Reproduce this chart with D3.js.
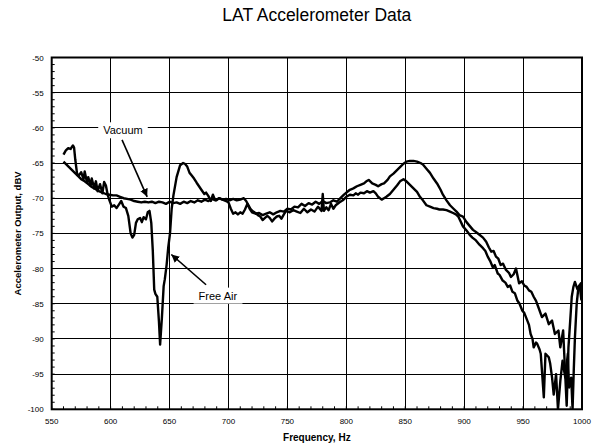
<!DOCTYPE html>
<html><head><meta charset="utf-8">
<script src="https://cdn.jsdelivr.net/npm/d3@7"></script>
<style>body{margin:0;background:#fff}svg{display:block}</style>
</head><body>
<svg id="chart" width="594" height="445"></svg>
<script>
const title = "LAT Accelerometer Data";
const xLabel = "Frequency, Hz";
const yLabel = "Accelerometer Output, dBV";
const xTicks = [550,600,650,700,750,800,850,900,950,1000];
const yTicks = [-50,-55,-60,-65,-70,-75,-80,-85,-90,-95,-100];

// Vacuum: frequency (Hz) and output (dBV)
const vacuumF = [560,563,566,569,572,575,578,581,584,587,590,593,596,599,602,605,608,611,614,617,620,623,626,629,632,635,638,641,644,647,650,653,656,659,662,665,668,671,674,677,680,683,686,689,692,695,698,701,704,707,710,713,715,717,719,721,723,725,727,729,731,733,735,737,739,741,743,745,747,749,752,755,758,761,764,767,770,773,776,779,780,781,783,785,787,789,791,794,797,800,803,806,808,810,812,815,817.5,820,823,825,827,830,832,834,837,840,843,845.6,848.5,851,854,857,860,862.5,865,868,871,874,877,879,882,885,888,890.6,893,895,899,902,904.7,907,910,913,916,918,920,922,924.3,926,928.5,930,932.7,935,937,939,941,943,945,947,949.4,951,953.6,955,956.4,958,959,961,962,964,965,967.6,969,971.8,973,974.6,976,978,979.6,981.6,983.5,985.8,988,989,990.8,992,993,994,995.5,997,999,1000];
const vacuumV = [-64.8,-65.3,-65.8,-66.3,-66.8,-67.3,-67.6,-68.0,-68.4,-68.7,-69.0,-69.2,-69.4,-69.5,-69.6,-69.6,-69.8,-70.0,-70.1,-70.2,-70.4,-70.5,-70.6,-70.5,-70.6,-70.5,-70.7,-70.5,-70.6,-70.8,-70.5,-70.7,-70.6,-70.8,-70.5,-70.7,-70.4,-70.6,-70.3,-70.5,-70.2,-70.4,-70.1,-70.3,-70.0,-70.2,-70.1,-70.3,-70.1,-70.3,-70.2,-70.0,-70.4,-71.0,-71.6,-71.9,-72.1,-72.4,-72.6,-73.1,-72.8,-72.5,-72.8,-73.3,-72.9,-72.6,-72.5,-72.9,-72.3,-71.8,-72.0,-71.7,-71.9,-72.1,-71.5,-72.0,-71.6,-71.9,-71.2,-71.8,-69.4,-71.8,-71.3,-71.7,-70.8,-71.5,-71.0,-70.6,-70.3,-69.8,-69.5,-69.6,-69.3,-69.5,-69.2,-69.3,-69.0,-69.2,-69.0,-69.3,-69.8,-70.2,-70.0,-69.8,-69.4,-68.8,-68.2,-67.6,-67.3,-67.6,-68.1,-68.6,-69.1,-69.8,-70.3,-71.0,-71.2,-71.4,-71.5,-71.6,-71.6,-71.7,-71.9,-72.1,-72.3,-72.6,-74.0,-74.6,-75.2,-75.6,-76.0,-76.6,-77.1,-77.5,-78.3,-78.9,-79.8,-79.5,-80.7,-80.9,-81.7,-82.0,-82.6,-82.4,-83.3,-83.5,-84.5,-85.0,-86.0,-86.3,-87.4,-88.0,-89.3,-90.0,-91.2,-90.5,-90.7,-91.5,-92.1,-98.3,-92.1,-92.6,-93.5,-95.5,-97.9,-95.0,-100,-96.0,-93.1,-95.5,-92.1,-96.9,-95.5,-100,-94.5,-89.8,-85.0,-82.6,-82.1,-83.5];

// Free Air: frequency (Hz) and output (dBV)
const freeAirF = [560,562,564,566,568,569,570,571.5,573,575,577,578,580,581,583,584,586,587.5,589,591,593,594.5,596,597.5,599,601,603,605,607,609,611,613,615,617,618.5,620,621.5,623,625,626.5,628,630,631.5,633,634.5,635.8,637,638,639.6,641,642,643.5,645,646,647.5,648.9,650.4,651.8,653.3,656,659,661.5,663,665,667,668.5,670.8,673,675,677,679.5,681,683,685,686.8,688,689.7,692,695,698,700,702,704,706,708,710,712,714,716,718,720,723,726,729,732,735,738,741,744,747,750,753,756,759,762,765,768,771,774,777,780,783,786,789,792,795,798,803,806,809,812,815,817,819,822,825,827,830,832,835,837,840,843,846,848.5,851,854,857,860,863,865,868,871,874,877,880,882,885,888,891,893.5,896,899,902,905,907.5,910,913,916,918.7,921,923,925,927,929,931,933,935.5,938,939.7,942,944,946.6,949,951,953,955,957,959,961,963,966,969,971.8,974.6,977,980,981.6,984,987,988.5,990,991.3,992.7,994,996,998,999.5];
const freeAirV = [-63.8,-63.2,-62.9,-63.0,-62.5,-62.8,-64.5,-66.5,-66.8,-66.3,-67.3,-66.2,-67.8,-67.0,-68.2,-67.2,-68.6,-67.6,-69.0,-68.0,-69.3,-67.7,-68.2,-69.5,-70.3,-71.2,-71.0,-71.4,-70.9,-70.4,-71.2,-71.4,-72.5,-75.0,-75.6,-75.2,-73.5,-73.0,-72.8,-73.4,-72.7,-73.0,-72.0,-71.8,-73.5,-77.5,-83.0,-83.6,-84.0,-87.5,-90.8,-87.0,-82.5,-81.5,-79.5,-77.0,-75.0,-71.5,-69.6,-67.0,-65.3,-65.0,-65.1,-65.5,-66.4,-66.7,-67.2,-67.8,-68.3,-68.8,-69.4,-69.2,-69.7,-70.4,-69.5,-70.0,-70.3,-70.0,-70.2,-70.4,-70.6,-71.5,-72.2,-72.0,-72.3,-72.0,-72.2,-71.6,-70.8,-71.5,-72.0,-72.2,-72.1,-72.4,-72.2,-72.0,-72.3,-72.0,-71.8,-71.9,-71.5,-71.6,-71.2,-71.3,-70.8,-71.1,-70.7,-70.9,-70.5,-70.8,-70.4,-70.7,-70.6,-70.3,-70.5,-70.0,-69.5,-68.8,-68.6,-68.3,-68.1,-67.9,-67.6,-67.4,-67.9,-68.1,-68.3,-68.0,-67.9,-67.4,-66.9,-66.5,-66.0,-65.5,-65.1,-64.8,-64.7,-64.7,-64.8,-65.0,-65.2,-65.8,-66.4,-67.2,-67.9,-68.8,-69.5,-70.3,-71.0,-71.5,-71.9,-72.4,-72.6,-73.4,-74.0,-74.5,-74.8,-75.2,-75.6,-76.2,-77.0,-77.6,-77.5,-78.3,-78.6,-79.5,-79.3,-80.2,-80.6,-81.2,-80.8,-80.0,-82.1,-81.8,-82.4,-82.6,-83.1,-83.3,-84.0,-84.6,-85.5,-86.9,-86.4,-87.9,-87.4,-89.3,-88.8,-91.2,-88.8,-99.5,-91.2,-87.4,-84.0,-82.6,-81.9,-82.9,-82.4,-84.5];

// annotations: label, label position, arrow start, arrow end (data units)
const annLabels = ["Vacuum","Free Air"];
const annLabelPos = [[610.5,-60.5],[691,-84]];
const annArrowFrom = [[609.7,-61.7],[681,-82.3]];
const annArrowTo = [[631,-69.8],[651.5,-78]];

const W = 594, H = 445;
const m = {l:51.7, r:582, t:57.5, b:409.3};
const svg = d3.select("#chart");
const x = d3.scaleLinear().domain([550,1000]).range([m.l, m.r]);
const y = d3.scaleLinear().domain([-100,-50]).range([m.b, m.t]);
const font = "Arial, 'Liberation Sans', sans-serif";

svg.append("rect").attr("width",W).attr("height",H).attr("fill","#fff");

// grid
const g = svg.append("g");
g.selectAll(".vg").data(xTicks.slice(1,-1)).join("line")
  .attr("x1",d=>x(d)).attr("x2",d=>x(d)).attr("y1",m.t).attr("y2",m.b)
  .attr("stroke","#000").attr("stroke-width",1).attr("shape-rendering","crispEdges");
g.selectAll(".hg").data(yTicks.slice(1,-1)).join("line")
  .attr("x1",m.l).attr("x2",m.r).attr("y1",d=>y(d)).attr("y2",d=>y(d))
  .attr("stroke","#000").attr("stroke-width",1).attr("shape-rendering","crispEdges");

// minor ticks
const xMinor = d3.range(550,1001,10);
const yMinor = d3.range(-100,-49,1);
g.selectAll(".xm").data(xMinor).join("line")
  .attr("x1",d=>x(d)).attr("x2",d=>x(d)).attr("y1",m.b).attr("y2",m.b-3)
  .attr("stroke","#000").attr("stroke-width",1);
g.selectAll(".ym").data(yMinor).join("line")
  .attr("x1",m.l).attr("x2",m.l+3).attr("y1",d=>y(d)).attr("y2",d=>y(d))
  .attr("stroke","#000").attr("stroke-width",1);

// data lines
const line = d3.line().x(d=>x(d[0])).y(d=>y(d[1]));
svg.append("clipPath").attr("id","clip").append("rect")
  .attr("x",m.l).attr("y",m.t).attr("width",m.r-m.l).attr("height",m.b-m.t);
const series = [d3.zip(vacuumF, vacuumV), d3.zip(freeAirF, freeAirV)];
svg.append("g").attr("clip-path","url(#clip)").selectAll("path").data(series).join("path")
  .attr("d",line).attr("fill","none").attr("stroke","#000").attr("stroke-width",2.4)
  .attr("stroke-linejoin","round");

// annotations
svg.append("defs").append("marker").attr("id","arr").attr("viewBox","0 0 10 10")
  .attr("refX",10).attr("refY",5).attr("markerWidth",5).attr("markerHeight",5)
  .attr("orient","auto").append("path").attr("d","M0,0L10,5L0,10z").attr("fill","#000");
annLabels.forEach((t,i)=>{
  svg.append("line").attr("x1",x(annArrowFrom[i][0])).attr("y1",y(annArrowFrom[i][1]))
    .attr("x2",x(annArrowTo[i][0])).attr("y2",y(annArrowTo[i][1]))
    .attr("stroke","#000").attr("stroke-width",1.6).attr("marker-end","url(#arr)");
  const tx = svg.append("text").attr("x",x(annLabelPos[i][0])).attr("y",y(annLabelPos[i][1]))
    .attr("text-anchor","middle").attr("dominant-baseline","middle")
    .attr("font-family",font).attr("font-size",11).text(t);
  const bb = tx.node().getBBox();
  svg.insert("rect", () => tx.node()).attr("x",bb.x-5).attr("y",bb.y-2).attr("width",bb.width+10).attr("height",bb.height+4).attr("fill","#fff");
});

// border
svg.append("rect").attr("x",m.l).attr("y",m.t).attr("width",m.r-m.l).attr("height",m.b-m.t)
  .attr("fill","none").attr("stroke","#000").attr("stroke-width",2);

// tick labels
svg.selectAll(".xl").data(xTicks).join("text").attr("x",d=>x(d)).attr("y",m.b+15)
  .attr("text-anchor","middle").attr("font-family",font).attr("font-size",8).text(d=>d);
svg.selectAll(".yl").data(yTicks).join("text").attr("x",m.l-8).attr("y",d=>y(d)+3)
  .attr("text-anchor","end").attr("font-family",font).attr("font-size",8).text(d=>d);

// titles
svg.append("text").attr("x",(m.l+m.r)/2).attr("y",21).attr("text-anchor","middle")
  .attr("font-family",font).attr("font-size",17.5).text(title);
svg.append("text").attr("x",(m.l+m.r)/2).attr("y",441).attr("text-anchor","middle")
  .attr("font-family",font).attr("font-size",10).attr("font-weight","bold").text(xLabel);
svg.append("text").attr("transform",`translate(21,${(m.t+m.b)/2}) rotate(-90)`)
  .attr("text-anchor","middle").attr("font-family",font).attr("font-size",9.5).attr("font-weight","bold").text(yLabel);
</script>
</body></html>
